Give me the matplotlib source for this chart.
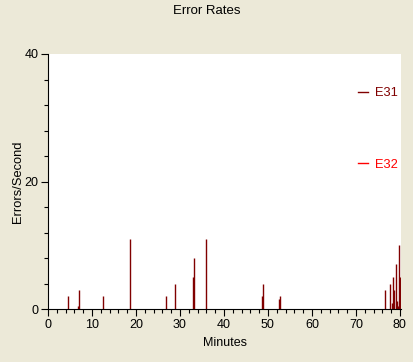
import matplotlib
matplotlib.use("Agg")
import matplotlib.pyplot as plt
from matplotlib.lines import Line2D
from matplotlib.ticker import MultipleLocator

# Data (minutes, errors/second)
e31_minutes = [4.6, 6.9, 7.1, 12.6, 18.7, 26.9, 28.9, 33.0, 33.25, 36.0,
               48.7, 48.9, 52.5, 52.8,
               76.7, 77.8, 78.3, 78.5, 78.7, 79.2, 79.4, 79.6, 79.8, 80.0, 80.2]
e31_values = [2, 0.5, 3, 2, 11, 2, 4, 5, 8, 11,
              2, 4, 1.5, 2,
              3, 4, 1, 5, 3, 7, 1.3, 0.5, 10, 5, 2]
e32_minutes = [4.6, 18.7, 36.0, 79.8]
e32_values = [0, 0, 0, 0]

series_names = ["E31", "E32"]
series_colors = ["#800000", "#FF0000"]
x_ticks = [0, 10, 20, 30, 40, 50, 60, 70, 80]
y_ticks = [0, 20, 40]

bg = "#ECE9D8"
plt.rcParams['font.family'] = ['Liberation Sans', 'DejaVu Sans']

fig = plt.figure(figsize=(4.13, 3.62), dpi=100, facecolor=bg)
W, H = 413, 362
ax = fig.add_axes([48 / W, 1 - 309 / H, (401 - 48) / W, (309 - 54) / H])
ax.set_facecolor("white")

ax.vlines(e31_minutes, 0, e31_values, colors=series_colors[0], linewidth=1.0)
ax.vlines(e32_minutes, 0, e32_values, colors=series_colors[1], linewidth=1.0)

ax.set_xlim(0, 80.25)
ax.set_ylim(0, 40)
ax.set_xticks(x_ticks)
ax.set_yticks(y_ticks)
ax.xaxis.set_minor_locator(MultipleLocator(2))
ax.yaxis.set_minor_locator(MultipleLocator(4))
ax.tick_params(which='major', direction='out', length=5, width=0.8, labelsize=9, pad=2)
ax.tick_params(which='minor', direction='out', length=3, width=0.8)

for s in ['top', 'right']:
    ax.spines[s].set_visible(False)
for s in ['left', 'bottom']:
    ax.spines[s].set_linewidth(0.8)

ax.set_xlabel("Minutes", fontsize=9, labelpad=4.5)
ax.set_ylabel("Errors/Second", fontsize=9.3, labelpad=0)
fig.text(0.5, 1 - 11 / H, "Error Rates", ha='center', va='center', fontsize=9.5)

handles = [Line2D([0], [0], color=c, lw=1.0) for c in series_colors]
leg = ax.legend(handles, series_names, loc='upper left',
                bbox_to_anchor=((358 - 48) / 353, (309 - 87) / 255),
                frameon=False, fontsize=9.3, handlelength=0.8, handletextpad=0.5,
                labelspacing=4.6, borderpad=0, borderaxespad=0)
for t, c in zip(leg.get_texts(), series_colors):
    t.set_color(c)

fig.savefig("out.png", dpi=100, facecolor=bg)
